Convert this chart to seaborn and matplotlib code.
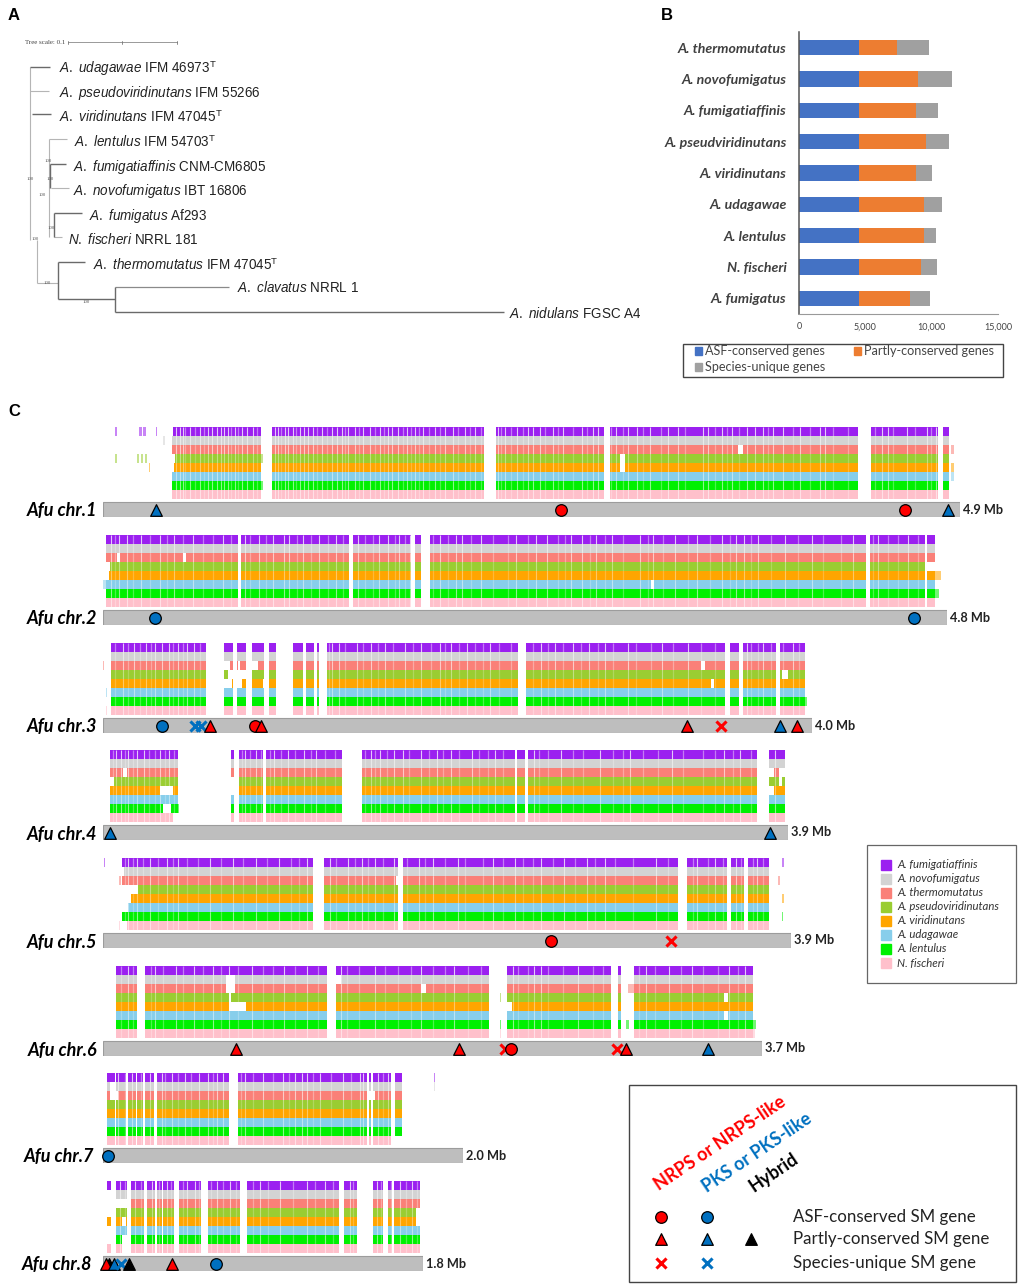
import pandas as pd
import seaborn as sns
import matplotlib.pyplot as plt
from matplotlib.patches import Rectangle

# panel A: tree, x in scale-bar units (109 units = 0.1 subst/site), y in leaf positions
tree_light = [(30, 67, 30, 240), (30, 91, 49, 91), (49, 139, 49, 237), (49, 139, 67, 139),
              (51, 188, 69, 188), (54, 237, 62, 237), (37, 240, 37, 283), (37, 283, 58, 283)]
tree_dark = [(30, 67, 50, 67), (32, 114, 51, 114), (50, 164, 66, 164), (50, 164, 50, 188),
             (54, 213, 82, 213), (54, 213, 54, 237), (58, 262, 85, 262), (58, 262, 58, 299),
             (58, 299, 115, 299), (115, 287, 115, 312), (115, 312, 504, 312)]
tree_mid = [(115, 287, 229, 287)]
tree_support = [(30, 179), (48, 161), (50, 179), (42, 195), (51, 228), (35, 239), (47, 283), (86, 302)]
tree_labels = [r"$\mathit{A.\ udagawae}$ IFM 46973$^{\mathrm{T}}$",
               r"$\mathit{A.\ pseudoviridinutans}$ IFM 55266",
               r"$\mathit{A.\ viridinutans}$ IFM 47045$^{\mathrm{T}}$",
               r"$\mathit{A.\ lentulus}$ IFM 54703$^{\mathrm{T}}$",
               r"$\mathit{A.\ fumigatiaffinis}$ CNM-CM6805",
               r"$\mathit{A.\ novofumigatus}$ IBT 16806",
               r"$\mathit{A.\ fumigatus}$ Af293",
               r"$\mathit{N.\ fischeri}$ NRRL 181",
               r"$\mathit{A.\ thermomutatus}$ IFM 47045$^{\mathrm{T}}$",
               r"$\mathit{A.\ clavatus}$ NRRL 1",
               r"$\mathit{A.\ nidulans}$ FGSC A4"]
tree_label_x = [59, 59, 59, 74, 73, 73, 89, 68, 93, 237, 509]
tree_label_y = [68, 93, 117, 142, 167, 191, 216, 240, 265, 287, 313]

# panel B
bar_species = ['A. thermomutatus', 'A. novofumigatus', 'A. fumigatiaffinis', 'A. pseudviridinutans',
               'A. viridinutans', 'A. udagawae', 'A. lentulus', 'N. fischeri', 'A. fumigatus']
asf_genes = [4530, 4530, 4530, 4530, 4530, 4530, 4530, 4530, 4530]
partly_genes = [2820, 4430, 4280, 5010, 4280, 4860, 4860, 4680, 3825]
unique_genes = [2415, 2570, 1660, 1735, 1230, 1410, 955, 1210, 1510]

# panel C: positions are bins of about 5.7 kb from the start of each chromosome
track_species = ['A. fumigatiaffinis', 'A. novofumigatus', 'A. thermomutatus', 'A. pseudoviridinutans',
                 'A. viridinutans', 'A. udagawae', 'A. lentulus', 'N. fischeri']
track_colors = ['#9B20F0', '#D3D3D3', '#FA8078', '#9ACD32', '#FFA500', '#87CEEB', '#00F000', '#FFC0CB']
track_fade = [0.75, 0.5, 0.6, 0.4, 0.4, 0.45, 0.55, 0.5]

chr_names = ['Afu chr.1', 'Afu chr.2', 'Afu chr.3', 'Afu chr.4', 'Afu chr.5', 'Afu chr.6', 'Afu chr.7', 'Afu chr.8']
chr_sizes = ['4.9 Mb', '4.8 Mb', '4.0 Mb', '3.9 Mb', '3.9 Mb', '3.7 Mb', '2.0 Mb', '1.8 Mb']
chr_bins = [857, 844, 709, 685, 688, 659, 360, 320]

chr_blocks = [
    [(69, 158), (169, 381), (393, 501), (507, 755), (768, 835), (840, 846)],
    [(3, 135), (138, 246), (250, 308), (312, 318), (327, 763), (767, 822), (824, 832)],
    [(8, 103), (121, 130), (134, 143), (149, 161), (166, 173), (190, 200), (203, 211), (214, 216),
     (224, 415), (423, 622), (627, 636), (640, 673), (677, 702)],
    [(7, 75), (128, 131), (136, 160), (163, 239), (259, 412), (414, 422), (425, 654), (666, 682)],
    [(19, 210), (221, 295), (300, 575), (584, 624), (628, 641), (645, 666)],
    [(13, 34), (42, 224), (233, 386), (404, 508), (515, 518), (531, 650)],
    [(4, 12), (13, 23), (25, 33), (34, 40), (42, 51), (54, 126), (135, 264), (266, 268), (270, 288), (292, 299)],
    [(4, 8), (13, 24), (28, 41), (44, 52), (54, 59), (60, 71), (76, 98), (105, 137), (144, 236),
     (241, 254), (270, 280), (285, 289), (291, 317)],
]
chr_stripes = [
    [73, 77, 80, 87, 97, 105, 109, 114, 118, 121, 125, 132, 139, 144, 150, 172, 175, 182, 185, 190, 197, 201,
     205, 210, 219, 229, 234, 239, 245, 252, 260, 267, 277, 285, 289, 295, 304, 312, 320, 332, 342, 350, 362,
     372, 395, 402, 414, 425, 430, 437, 450, 460, 479, 490, 495, 513, 525, 534, 547, 565, 575, 600, 605, 619,
     629, 644, 652, 660, 670, 680, 697, 717, 722, 779, 785, 804, 824, 833],
    [8, 16, 24, 38, 57, 71, 90, 120, 142, 156, 170, 181, 186, 200, 216, 233, 255, 276, 285, 296, 307, 337, 353,
     359, 378, 413, 433, 444, 468, 479, 493, 509, 537, 550, 572, 594, 619, 633, 641, 655, 682, 709, 750, 775, 805],
    [20, 31, 43, 52, 59, 66, 75, 84, 91, 229, 236, 254, 268, 282, 302, 318, 337, 348, 364, 387, 438, 452, 470,
     486, 502, 525, 559, 585, 644, 660, 690],
    [13, 18, 25, 34, 41, 57, 66, 142, 153, 171, 185, 201, 213, 268, 277, 291, 300, 318, 334, 348, 369, 392, 431,
     458, 497, 527, 569, 621, 637, 672],
    [25, 34, 47, 64, 75, 107, 130, 153, 176, 204, 227, 245, 259, 272, 291, 316, 330, 355, 390, 412, 438, 461,
     484, 502, 553, 594, 612, 633, 654],
    [25, 52, 73, 91, 110, 126, 149, 181, 204, 238, 272, 318, 351, 410, 431, 438, 475, 543, 566, 589, 626, 642],
    [15, 29, 47, 59, 69, 82, 96, 105, 114, 120, 142, 160, 180, 192, 199, 204, 217, 240, 257, 260, 275, 285],
    [17, 32, 49, 64, 84, 92, 114, 127, 157, 177, 204, 222, 247, 274, 297, 309],
]
# paler lines between the clearer stripes
chr_fine = [
    [82, 92, 101, 128, 135, 154, 178, 193, 214, 224, 242, 256, 272, 281, 300, 308, 316, 326, 337, 355, 367, 378,
     398, 408, 420, 442, 455, 470, 484, 508, 520, 540, 558, 582, 612, 624, 636, 665, 690, 707, 730, 745, 772, 790,
     812, 828],
    [12, 30, 47, 64, 80, 100, 110, 128, 147, 163, 194, 208, 225, 240, 262, 270, 292, 302, 330, 345, 368, 390, 405,
     425, 455, 462, 487, 502, 520, 545, 560, 585, 607, 627, 648, 668, 695, 720, 738, 770, 785, 795, 815],
    [12, 25, 37, 48, 70, 80, 97, 226, 242, 260, 275, 290, 310, 328, 342, 356, 372, 380, 396, 408, 430, 445, 460,
     478, 495, 510, 533, 548, 570, 598, 612, 648, 655, 668, 680, 696],
    [10, 22, 30, 46, 52, 62, 71, 139, 147, 158, 167, 178, 192, 208, 222, 232, 262, 272, 284, 306, 326, 340, 356,
     376, 385, 400, 436, 445, 470, 480, 510, 520, 540, 555, 580, 600, 612, 630, 648],
    [22, 30, 40, 55, 70, 84, 95, 118, 140, 164, 188, 196, 216, 233, 252, 265, 280, 304, 322, 342, 362, 380, 400,
     420, 430, 450, 472, 492, 512, 530, 565, 590, 605, 620, 638, 650, 660],
    [18, 30, 48, 60, 80, 100, 118, 135, 160, 170, 192, 215, 244, 256, 282, 295, 308, 330, 342, 365, 378, 415, 425,
     445, 460, 490, 500, 536, 552, 578, 600, 615, 635],
    [22, 38, 52, 62, 75, 88, 110, 138, 150, 170, 186, 210, 228, 248, 280],
    [22, 38, 56, 68, 80, 96, 108, 120, 133, 150, 165, 190, 212, 230, 250, 278, 288, 303, 314],
]
# (track row, start, end) stretches missing in one species
chr_holes = [
    [(0, 69, 70), (3, 69, 72), (4, 69, 71), (2, 635, 640), (3, 517, 522), (4, 517, 522), (7, 755, 768)],
    [(3, 3, 7), (4, 3, 6), (2, 14, 17), (2, 80, 83), (5, 548, 551), (3, 822, 832)],
    [(3, 125, 149), (4, 121, 129), (4, 134, 139), (4, 160, 166), (2, 121, 127), (2, 135, 137), (2, 144, 155),
     (2, 598, 602), (4, 608, 611), (3, 679, 685), (4, 673, 677)],
    [(3, 7, 11), (4, 57, 70), (3, 128, 134), (4, 128, 136), (2, 20, 24), (6, 60, 68), (4, 666, 671), (3, 676, 679),
     (2, 666, 671), (2, 676, 682), (7, 70, 75)],
    [(3, 19, 35), (4, 19, 28), (5, 19, 25), (7, 19, 24), (1, 19, 21), (2, 293, 296)],
    [(4, 126, 143), (3, 126, 128), (1, 123, 132), (2, 123, 132), (2, 318, 323), (3, 621, 625), (4, 404, 409),
     (1, 233, 238), (5, 621, 625)],
    [(2, 7, 15), (1, 7, 12), (2, 264, 272), (2, 288, 292), (7, 288, 299), (0, 288, 292)],
    [(2, 4, 28), (3, 4, 13), (4, 8, 13), (4, 19, 23), (5, 4, 13), (6, 4, 13), (6, 19, 24), (7, 8, 13), (7, 19, 28),
     (1, 4, 8), (3, 313, 317), (4, 313, 317), (2, 98, 105)],
]
# (track row, start, end) short pieces outside the shared blocks
chr_extras = [
    [(0, 12, 14), (0, 36, 39), (0, 40, 43), (0, 53, 54), (1, 60, 62), (3, 12, 14), (3, 34, 36), (3, 38, 40),
     (3, 42, 44), (4, 46, 47), (6, 158, 160), (2, 848, 851), (4, 848, 851), (5, 848, 851), (3, 158, 160)],
    [(4, 832, 838), (6, 832, 836), (5, 0, 3)],
    [(2, 0, 1), (5, 3, 4), (7, 3, 4), (6, 702, 704)],
    [(0, 666, 676), (6, 75, 76)],
    [(0, 1, 2), (0, 679, 681), (2, 16, 18), (7, 16, 17), (2, 675, 677), (4, 679, 681), (6, 679, 680)],
    [(3, 397, 398), (6, 397, 398), (7, 397, 398), (2, 525, 531), (6, 523, 526), (6, 650, 653), (7, 650, 652)],
    [(0, 331, 332), (1, 331, 332)],
    [(7, 4, 8)],
]
# (position, gene class, conservation)
chr_markers = [
    [(53, 'PKS', 'partly'), (458, 'NRPS', 'conserved'), (802, 'NRPS', 'conserved'), (845, 'PKS', 'partly')],
    [(52, 'PKS', 'conserved'), (811, 'PKS', 'conserved')],
    [(59, 'PKS', 'conserved'), (92, 'PKS', 'unique'), (98, 'PKS', 'unique'), (107, 'NRPS', 'partly'),
     (152, 'NRPS', 'conserved'), (158, 'NRPS', 'partly'), (584, 'NRPS', 'partly'), (618, 'NRPS', 'unique'),
     (677, 'PKS', 'partly'), (694, 'NRPS', 'partly')],
    [(7, 'PKS', 'partly'), (667, 'PKS', 'partly')],
    [(448, 'NRPS', 'conserved'), (568, 'NRPS', 'unique')],
    [(133, 'NRPS', 'partly'), (356, 'NRPS', 'partly'), (402, 'NRPS', 'unique'), (408, 'NRPS', 'conserved'),
     (514, 'NRPS', 'unique'), (523, 'NRPS', 'partly'), (605, 'PKS', 'partly')],
    [(5, 'PKS', 'conserved')],
    [(6, 'Hybrid', 'partly'), (3, 'NRPS', 'partly'), (11, 'PKS', 'partly'), (18, 'PKS', 'unique'),
     (26, 'Hybrid', 'partly'), (69, 'NRPS', 'partly'), (113, 'PKS', 'conserved')],
]
chr_tops = [427, 535, 643, 750, 858, 966, 1073, 1181]
chr_label_right = [97, 97, 97, 97, 97, 97, 94, 92]

class_colors = {'NRPS': '#FF0000', 'PKS': '#0070C0', 'Hybrid': '#000000'}
kind_markers = {'conserved': 'o', 'partly': '^', 'unique': 'x'}
kind_names = ['ASF-conserved SM gene', 'Partly-conserved SM gene', 'Species-unique SM gene']

sns.set_theme(style="white")
plt.rcParams['font.family'] = ['Lato', 'DejaVu Sans']
plt.rcParams['mathtext.fontset'] = 'custom'
plt.rcParams['mathtext.it'] = 'Liberation Sans:italic'
plt.rcParams['mathtext.rm'] = 'Liberation Sans'

W, H = 1020, 1286
fig = plt.figure(figsize=(W / 100, H / 100), dpi=100, facecolor='white')

# overlay in figure pixels for panel A and all free text
ov = fig.add_axes([0, 0, 1, 1], zorder=5)
ov.set_xlim(0, W)
ov.set_ylim(H, 0)
ov.axis('off')
ov.patch.set_alpha(0)


def mark(ax, xs, ys, gene_class, kind, size=70):
    df = pd.DataFrame({'x': xs, 'y': ys})
    if kind == 'unique':
        sns.scatterplot(data=df, x='x', y='y', marker='x', s=size * 0.75, color=class_colors[gene_class],
                        linewidth=2.2, ax=ax, clip_on=False, legend=False, zorder=4)
    else:
        sns.scatterplot(data=df, x='x', y='y', marker=kind_markers[kind], s=size,
                        color=class_colors[gene_class], edgecolor='black', linewidth=0.9, ax=ax,
                        clip_on=False, legend=False, zorder=4)
    ax.set_xlabel('')
    ax.set_ylabel('')


for letter, x, y in [('A', 8, 15), ('B', 661, 15), ('C', 8, 411)]:
    ov.text(x, y, letter, fontsize=12, fontweight='bold', color='black', va='center', family='Liberation Sans')

# panel A
for edges, col, lw in [(tree_light, '#B5B5B5', 0.8), (tree_mid, '#8A8A8A', 0.9), (tree_dark, '#6A6A6A', 1.0)]:
    for x1, y1, x2, y2 in edges:
        ov.plot([x1, x2], [y1, y2], color=col, lw=lw, solid_capstyle='butt')
for x, y in tree_support:
    ov.text(x, y, '100', fontsize=3.5, color='#555555', ha='center', va='center', family='Liberation Serif')
for label, x, y in zip(tree_labels, tree_label_x, tree_label_y):
    ov.text(x, y, label, fontsize=9.75, color='#222222', va='center', family='Liberation Sans')
ov.text(25, 42, 'Tree scale: 0.1', fontsize=5, color='#444444', va='center', family='Liberation Serif')
ov.plot([68, 177], [42, 42], color='#999999', lw=0.7)
for x in (68, 122, 177):
    ov.plot([x, x], [40.5, 43.5], color='#777777', lw=0.6)

# panel B
axb = fig.add_axes([799 / W, 1 - 314 / H, 199 / W, 282 / H])
bars = pd.DataFrame({'species': bar_species, 'asf': asf_genes, 'partly': partly_genes, 'unique': unique_genes})
bars['asf_end'] = bars['asf']
bars['partly_end'] = bars['asf'] + bars['partly']
bars['total'] = bars['partly_end'] + bars['unique']
for col, colour in [('total', '#A0A0A0'), ('partly_end', '#ED7D31'), ('asf_end', '#4472C4')]:
    sns.barplot(data=bars, y='species', x=col, color=colour, saturation=1, width=0.49, linewidth=0, ax=axb)
axb.set_xlim(0, 15000)
axb.set_xticks([0, 5000, 10000, 15000])
axb.set_xticklabels(['0', '5,000', '10,000', '15,000'], fontsize=6.5, color='#444444')
axb.set_xlabel('')
axb.set_ylabel('')
axb.tick_params(axis='y', length=0, pad=9)
axb.tick_params(axis='x', length=2, color='#888888', pad=5, direction='inout')
for t in axb.get_yticklabels():
    t.set_fontsize(10.2)
    t.set_fontweight('bold')
    t.set_fontstyle('italic')
    t.set_color('#404040')
    t.set_y(t.get_position()[1])
sns.despine(ax=axb)
axb.spines['left'].set_color('#555555')
axb.spines['left'].set_linewidth(1.1)
axb.spines['bottom'].set_color('#999999')
axb.spines['bottom'].set_linewidth(0.8)

ov.add_patch(Rectangle((683, 344), 320, 33, fill=False, edgecolor='#444444', lw=1))
for x, y, colour, label in [(695, 351, '#4472C4', 'ASF-conserved genes'), (854, 351, '#ED7D31', 'Partly-conserved genes'),
                            (695, 367, '#A0A0A0', 'Species-unique genes')]:
    ov.add_patch(Rectangle((x, y - 4), 7.5, 8, color=colour))
    ov.text(x + 10.5, y, label, fontsize=9.1, color='#444444', va='center')

# panel C
for i, name in enumerate(chr_names):
    ax = fig.add_axes([103 / W, 1 - (chr_tops[i] + 90) / H, chr_bins[i] / W, 90 / H])
    ax.set_xlim(0, chr_bins[i])
    ax.set_ylim(10, 0)
    ax.axis('off')
    ax.patch.set_alpha(0)
    blocks = [(a, b - a) for a, b in chr_blocks[i]]
    for row, colour in enumerate(track_colors):
        ax.broken_barh(blocks, (row, 1), facecolors=colour, linewidth=0)
    for row, a, b in chr_holes[i]:
        ax.broken_barh([(a, b - a)], (row, 1), facecolors='white', linewidth=0)
    for row, fade in enumerate(track_fade):
        ax.vlines(chr_stripes[i], row, row + 1, color='white', alpha=fade, lw=0.8)
        ax.vlines(chr_fine[i], row, row + 1, color='white', alpha=fade * 0.55, lw=0.9)
    for row, a, b in chr_extras[i]:
        ax.broken_barh([(a, b - a)], (row, 1), facecolors=track_colors[row], linewidth=0, alpha=0.55, clip_on=False)
    ax.barh(9.15, chr_bins[i], height=1.7, left=0, color='#BEBEBE', edgecolor='#9C9C9C', linewidth=0.8)
    for pos, gene_class, kind in chr_markers[i]:
        mark(ax, [pos], [9.2], gene_class, kind)
    ov.text(chr_label_right[i], chr_tops[i] + 84, name, fontsize=13, fontweight='bold', fontstyle='italic',
            color='black', ha='right', va='center')
    ov.text(103 + chr_bins[i] + 3, chr_tops[i] + 82.5, chr_sizes[i], fontsize=9.2, fontweight='bold',
            color='#222222', va='center')

# species legend
ov.add_patch(Rectangle((867, 845), 149, 138, fill=False, edgecolor='#666666', lw=0.9))
for j, (sp, colour) in enumerate(zip(track_species, track_colors)):
    y = 865 + j * 14
    ov.add_patch(Rectangle((881, y - 5), 10.5, 10, color=colour))
    ov.text(897, y, sp, fontsize=8.2, fontstyle='italic', color='#333333', va='center')

# SM gene legend
ov.add_patch(Rectangle((629, 1085), 387, 197, fill=False, edgecolor='#444444', lw=1))
for x, y, txt, col in [(661, 1193, 'NRPS or NRPS-like', '#FF0000'), (709, 1195, 'PKS or PKS-like', '#0070C0'),
                       (756, 1195, 'Hybrid', '#000000')]:
    ov.text(x, y, txt, fontsize=13, fontweight='bold', color=col, rotation=34, rotation_mode='anchor',
            ha='left', va='bottom')
legend_rows = [1217, 1239, 1263]
legend_cols = [('NRPS', 661), ('PKS', 707), ('Hybrid', 751)]
for (gene_class, x) in legend_cols:
    for kind, y in zip(['conserved', 'partly', 'unique'], legend_rows):
        if gene_class == 'Hybrid' and kind != 'partly':
            continue
        mark(ov, [x], [y], gene_class, kind)
ov.set_xlim(0, W)
ov.set_ylim(H, 0)
for label, y in zip(kind_names, legend_rows):
    ov.text(793, y, label, fontsize=12.2, color='#222222', va='center')

fig.savefig('out.png', dpi=100)
